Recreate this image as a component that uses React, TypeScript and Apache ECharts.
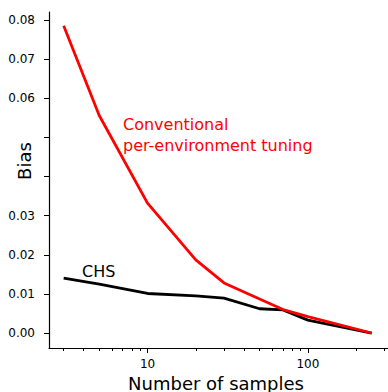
import React, { useEffect, useRef } from "react";
import * as echarts from "echarts";

const samples = [3, 5, 10, 20, 30, 50, 70, 100, 250];
const conventional = [0.0785, 0.0556, 0.0332, 0.0187, 0.0128, 0.0087, 0.0060, 0.0042, 0.0];
const chs = [0.014, 0.0125, 0.0101, 0.0095, 0.0089, 0.0062, 0.0059, 0.0033, 0.0];
const yTicks = [0, 0.01, 0.02, 0.03, 0.04, 0.05, 0.06, 0.07, 0.08];
const yLabels = [0, 0.01, 0.02, 0.03, 0.06, 0.07, 0.08];
const xMajor = [10, 100];
const xMinor = [3, 4, 5, 6, 7, 8, 9, 20, 30, 40, 50, 60, 70, 80, 90, 200, 300];

const FONT = "DejaVu Sans";

export default function App() {
  const ref = useRef<HTMLDivElement>(null);
  useEffect(() => {
    document.body.style.margin = "0";
    const chart = echarts.init(ref.current!, null, { renderer: "svg" });
    const xMin = Math.log10(2.43);
    const xMax = Math.log10(316);
    const baseX = {
      type: "value" as const,
      min: xMin,
      max: xMax,
      position: "bottom" as const,
      splitLine: { show: false },
    };
    chart.setOption({
      animation: false,
      grid: { left: 49, top: 12, right: 0, bottom: 44, containLabel: false },
      xAxis: [
        {
          ...baseX,
          axisLine: { show: true, onZero: false, lineStyle: { color: "#000", width: 1.2 } },
          axisTick: {
            show: true,
            length: 5,
            lineStyle: { color: "#000", width: 1 },
            customValues: xMajor.map((v) => Math.log10(v)),
          },
          axisLabel: {
            show: true,
            margin: 10,
            color: "#000",
            fontSize: 12,
            fontFamily: FONT,
            customValues: xMajor.map((v) => Math.log10(v)),
            formatter: (v: number) => String(Math.round(Math.pow(10, v))),
          },
        },
        {
          ...baseX,
          axisLine: { show: false, onZero: false },
          axisTick: {
            show: true,
            length: 3,
            lineStyle: { color: "#000", width: 1 },
            customValues: xMinor.map((v) => Math.log10(v)),
          },
          axisLabel: { show: false },
        },
      ],
      yAxis: {
        type: "value",
        min: -0.00383,
        max: 0.08204,
        splitLine: { show: false },
        axisLine: { show: true, lineStyle: { color: "#000", width: 1.2 } },
        axisTick: {
          show: true,
          length: 5,
          lineStyle: { color: "#000", width: 1 },
          customValues: yTicks,
        },
        axisLabel: {
          show: true,
          margin: 14,
          color: "#000",
          fontSize: 12,
          fontFamily: FONT,
          customValues: yLabels,
          formatter: (v: number) => v.toFixed(2),
        },
      },
      series: [
        {
          type: "line",
          name: "Conventional per-environment tuning",
          xAxisIndex: 0,
          data: samples.map((s, i) => [Math.log10(s), conventional[i]]),
          showSymbol: false,
          symbol: "none",
          lineStyle: { color: "#ff0000", width: 2.8 },
          z: 3,
        },
        {
          type: "line",
          name: "CHS",
          xAxisIndex: 0,
          data: samples.map((s, i) => [Math.log10(s), chs[i]]),
          showSymbol: false,
          symbol: "none",
          lineStyle: { color: "#000000", width: 2.8 },
          z: 2,
        },
      ],
      graphic: [
        {
          type: "text",
          x: 123,
          y: 124,
          style: { text: "Conventional", fill: "#ff0000", font: `16px '${FONT}'`, textVerticalAlign: "middle" },
        },
        {
          type: "text",
          x: 123,
          y: 145,
          style: { text: "per-environment tuning", fill: "#ff0000", font: `16px '${FONT}'`, textVerticalAlign: "middle" },
        },
        {
          type: "text",
          x: 82,
          y: 271,
          style: { text: "CHS", fill: "#000", font: `16px '${FONT}'`, textVerticalAlign: "middle" },
        },
        {
          type: "text",
          x: 216,
          y: 383,
          style: { text: "Number of samples", fill: "#000", font: `18px '${FONT}'`, textAlign: "center", textVerticalAlign: "middle" },
        },
        {
          type: "text",
          x: 24,
          y: 161,
          rotation: Math.PI / 2,
          style: { text: "Bias", fill: "#000", font: `18px '${FONT}'`, textAlign: "center", textVerticalAlign: "middle" },
        },
      ],
    });
    return () => chart.dispose();
  }, []);
  return <div ref={ref} style={{ position: "absolute", left: 0, top: 0, width: 388, height: 392 }} />;
}
